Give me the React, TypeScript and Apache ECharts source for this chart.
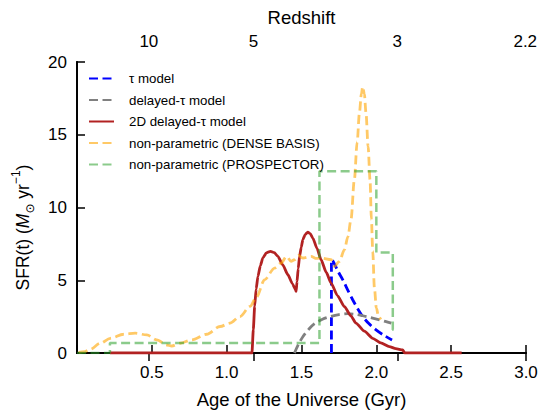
import React, { useEffect, useRef } from "react";
import * as echarts from "echarts";

// ---- data ----
const redshiftLabels = ["10", "5", "3", "2.2"];
const redshiftAges = [0.48, 1.18, 2.14, 2.995];

const tauT = [1.70, 1.70, 1.709, 1.742, 1.776, 1.81, 1.842, 1.875, 1.909, 1.95, 1.998, 2.05, 2.105];
const tauSfr = [0, 6.4, 6.35, 5.65, 5.03, 4.3, 3.66, 3.05, 2.5, 2.02, 1.59, 1.22, 0.9];

const delayedT = [1.453, 1.48, 1.509, 1.55, 1.587, 1.64, 1.698, 1.75, 1.81, 1.86, 1.909, 1.96, 2.02, 2.06, 2.1];
const delayedSfr = [0, 0.6, 1.12, 1.65, 2.02, 2.32, 2.52, 2.64, 2.7, 2.66, 2.56, 2.44, 2.28, 2.17, 2.05];

const twoDT = [0.22, 1.169, 1.178, 1.187, 1.197, 1.209, 1.225, 1.242, 1.265, 1.293, 1.318, 1.342, 1.375, 1.409, 1.44, 1.458, 1.464, 1.47, 1.478, 1.487, 1.498, 1.509, 1.525, 1.542, 1.558, 1.576, 1.603, 1.631, 1.665, 1.698, 1.74, 1.787, 1.83, 1.864, 1.92, 1.976, 2.03, 2.087, 2.13, 2.176, 2.19, 2.57];
const twoDSfr = [0, 0, 1.6, 3.2, 4.4, 5.26, 6.0, 6.53, 6.88, 6.99, 6.9, 6.64, 6.05, 5.38, 4.75, 4.38, 4.23, 4.9, 5.8, 6.64, 7.25, 7.79, 8.15, 8.3, 8.2, 7.9, 7.2, 6.41, 5.55, 4.8, 3.95, 3.19, 2.55, 2.05, 1.5, 1.01, 0.7, 0.44, 0.3, 0.21, 0, 0];

const denseT = [0.011, 0.05, 0.089, 0.156, 0.222, 0.311, 0.389, 0.467, 0.533, 0.6, 0.633, 0.689, 0.767, 0.867, 0.956, 1.022, 1.089, 1.156, 1.2, 1.253, 1.32, 1.364, 1.4, 1.43, 1.453, 1.48, 1.509, 1.564, 1.6, 1.631, 1.698, 1.72, 1.753, 1.787, 1.81, 1.831, 1.853, 1.872, 1.887, 1.9, 1.909, 1.92, 1.931, 1.945, 1.958, 1.967, 1.976, 1.987, 2.0, 2.015, 2.03];
const denseSfr = [0.05, 0.1, 0.25, 0.67, 1.01, 1.29, 1.36, 1.24, 0.9, 0.55, 0.48, 0.67, 0.9, 1.29, 1.82, 2.05, 2.51, 3.2, 3.85, 5.03, 5.84, 6.18, 6.64, 6.3, 6.41, 6.7, 6.53, 6.64, 6.5, 6.53, 6.41, 5.95, 6.3, 7.1, 8.0, 9.2, 11.9, 14.5, 16.5, 17.8, 18.3, 17.8, 16.5, 14.2, 11.9, 9.2, 7.0, 4.5, 3.1, 2.5, 2.3];

const prospectorEdges = [0, 0.22, 1.62, 2.0, 2.11, 2.13];
const prospectorSfr = [0, 0.68, 12.5, 6.9, 1.6];

const legendNames = [
  "τ model",
  "delayed-τ model",
  "2D delayed-τ model",
  "non-parametric (DENSE BASIS)",
  "non-parametric (PROSPECTOR)",
];

const zip = (xs: number[], ys: number[]) => xs.map((x, i) => [x, ys[i]]);

const stepPoints = (edges: number[], vals: number[]) => {
  const pts: number[][] = [];
  vals.forEach((v, i) => {
    pts.push([edges[i], v]);
    pts.push([edges[i + 1], v]);
  });
  return pts;
};

const FONT = "Liberation Sans, Arial, Helvetica, sans-serif";
const TICK_FS = 17;
const TITLE_FS = 18.5;
const YTITLE_FS = 17.5;

export default function App() {
  const ref = useRef<HTMLDivElement>(null);
  useEffect(() => {
    document.body.style.margin = "0";
    if (!ref.current) return;
    const chart = echarts.init(ref.current, null, { renderer: "svg" });
    const axisLine = { show: true, lineStyle: { color: "#000", width: 1.8 } };
    chart.setOption({
      animation: false,
      textStyle: { fontFamily: FONT },
      grid: { left: 77, right: 15, top: 62, bottom: 64, containLabel: false },
      legend: {
        orient: "vertical",
        left: 88,
        top: 72,
        padding: 0,
        itemWidth: 25,
        itemHeight: 14,
        itemGap: 8.5,
        data: legendNames,
        itemStyle: { opacity: 0 },
        textStyle: { fontSize: 13.3, color: "#000", fontFamily: FONT, padding: [0, 0, 0, 10] },
      },
      xAxis: [
        {
          type: "value",
          position: "bottom",
          min: 0,
          max: 3,
          interval: 0.5,
          name: "Age of the Universe (Gyr)",
          nameLocation: "middle",
          nameGap: 37,
          nameTextStyle: { fontSize: TITLE_FS, color: "#000", fontFamily: FONT },
          axisLine,
          axisTick: { show: true, inside: true, length: 8, lineStyle: { color: "#000", width: 1.5 } },
          axisLabel: {
            fontSize: TICK_FS,
            color: "#000",
            margin: 11,
            fontFamily: FONT,
            formatter: (v: number) => (v === 0 ? "" : v.toFixed(1)),
          },
          splitLine: { show: false },
        },
        {
          type: "value",
          position: "top",
          min: 0,
          max: 3,
          name: "Redshift",
          nameLocation: "middle",
          nameGap: 35,
          nameTextStyle: { fontSize: TITLE_FS, color: "#000", fontFamily: FONT },
          axisLine,
          axisTick: {
            show: true,
            inside: true,
            length: 8,
            customValues: redshiftAges,
            lineStyle: { color: "#000", width: 1.5 },
          },
          axisLabel: {
            fontSize: TICK_FS,
            color: "#000",
            margin: 12,
            fontFamily: FONT,
            customValues: redshiftAges,
            formatter: (v: number) => {
              const i = redshiftAges.findIndex((a) => Math.abs(a - v) < 1e-6);
              return i >= 0 ? redshiftLabels[i] : "";
            },
          },
          splitLine: { show: false },
        },
      ],
      yAxis: [
        {
          type: "value",
          min: 0,
          max: 20,
          interval: 5,
          name: "{a|SFR(t) (}{i|M}{sub|⊙}{a| yr}{sup|−1}{a|)}",
          nameLocation: "middle",
          nameRotate: 90,
          nameGap: 41,
          nameTextStyle: {
            fontSize: YTITLE_FS,
            color: "#000",
            fontFamily: FONT,
            padding: [0, 40, 0, 0],
            rich: {
              a: { fontSize: YTITLE_FS, color: "#000", fontFamily: FONT, lineHeight: 26, verticalAlign: "middle" },
              i: { fontSize: YTITLE_FS, color: "#000", fontFamily: FONT, fontStyle: "italic", lineHeight: 26, verticalAlign: "middle" },
              sub: { fontSize: 12, color: "#000", fontFamily: "DejaVu Sans", lineHeight: 26, verticalAlign: "bottom" },
              sup: { fontSize: 12, color: "#000", fontFamily: FONT, lineHeight: 26, verticalAlign: "top" },
            },
          },
          axisLine,
          axisTick: { show: true, inside: true, length: 8, lineStyle: { color: "#000", width: 1.5 } },
          axisLabel: { fontSize: TICK_FS, color: "#000", margin: 10, fontFamily: FONT },
          splitLine: { show: false },
        },
        {
          type: "value",
          position: "right",
          min: 0,
          max: 20,
          interval: 5,
          axisLine,
          axisTick: { show: false },
          axisLabel: { show: false },
          splitLine: { show: false },
        },
      ],
      series: [
        {
          name: legendNames[0],
          type: "line",
          data: zip(tauT, tauSfr),
          symbol: "none",
          smooth: 0.3,
          lineStyle: { color: "#0000ff", width: 2.8, type: [9, 4.5] },
          itemStyle: { color: "#0000ff" },
        },
        {
          name: legendNames[1],
          type: "line",
          data: zip(delayedT, delayedSfr),
          symbol: "none",
          smooth: 0.3,
          lineStyle: { color: "#808080", width: 2.8, type: [9, 4.5] },
          itemStyle: { color: "#808080" },
        },
        {
          name: legendNames[2],
          type: "line",
          data: zip(twoDT, twoDSfr),
          symbol: "none",
          smooth: 0.2,
          smoothMonotone: "x",
          lineStyle: { color: "#b22222", width: 2.8, type: "solid" },
          itemStyle: { color: "#b22222" },
        },
        {
          name: legendNames[3],
          type: "line",
          data: zip(denseT, denseSfr),
          symbol: "none",
          smooth: 0.3,
          smoothMonotone: "x",
          lineStyle: { color: "rgba(255,165,0,0.6)", width: 2.8, type: [9, 4.5] },
          itemStyle: { color: "rgba(255,165,0,0.6)" },
        },
        {
          name: legendNames[4],
          type: "line",
          data: stepPoints(prospectorEdges, prospectorSfr),
          symbol: "none",
          lineStyle: { color: "rgba(44,160,44,0.55)", width: 2.5, type: [9, 4.5] },
          itemStyle: { color: "rgba(44,160,44,0.55)" },
        },
      ],
    });
    return () => chart.dispose();
  }, []);
  return <div ref={ref} style={{ width: 541, height: 417 }} />;
}
